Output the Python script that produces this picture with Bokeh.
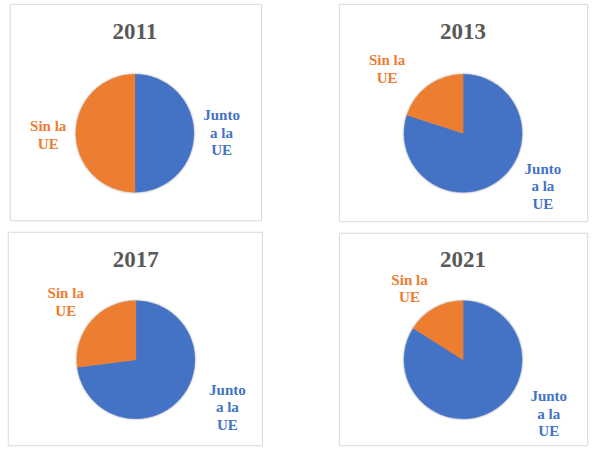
import math
from bokeh.plotting import figure
from bokeh.models import ColumnDataSource, Range1d
from bokeh.core.properties import value
from bokeh.embed import file_html
from bokeh.resources import INLINE

# ---- data ----
years = ["2011", "2013", "2017", "2021"]
categories = ["Junto a la UE", "Sin la UE"]
junto = [50, 80, 73, 84]
sin_ue = [50, 20, 27, 16]
label_lines = [["Junto", "a la", "UE"], ["Sin la", "UE"]]

colors = ["#4472C4", "#ED7D31"]
W, H = 611.0, 468.0  # reference frame, mapped onto the figure
SERIF = value("Liberation Serif")

# ---- layout (panel geometry in reference frame coordinates) ----
panels = [
    dict(l=10, r=268, t=4, b=228, cx=138, cy=137.5, ty=32,
         lab=[(227, 119), (49, 130)]),
    dict(l=348, r=603, t=4, b=229, cx=475, cy=137.5, ty=32,
         lab=[(557, 174), (397, 62)]),
    dict(l=8, r=269, t=240, b=461, cx=139, cy=372, ty=268,
         lab=[(233, 403), (67, 303)]),
    dict(l=348, r=603, t=241, b=461, cx=475, cy=372, ty=268,
         lab=[(563, 410), (420, 289)]),
]

p = figure(width=595, height=452, output_backend="svg", toolbar_location=None,
           x_range=Range1d(0, W), y_range=Range1d(0, H), min_border=0)
p.axis.visible = False
p.grid.visible = False
p.outline_line_color = None
p.background_fill_color = "white"
p.border_fill_color = "white"

# panel borders
p.quad(left=[d["l"] for d in panels], right=[d["r"] for d in panels],
       top=[H - d["t"] for d in panels], bottom=[H - d["b"] for d in panels],
       fill_color=None, line_color="#D9D9D9", line_width=1)

# titles
p.text(x=[d["cx"] for d in panels], y=[H - d["ty"] for d in panels], text=years,
       text_font=SERIF, text_font_style="bold",
       text_font_size="23px", text_color="#595959",
       text_align="center", text_baseline="middle")

# soft shadow behind pies
for rad, a in [(61, 0.05), (60, 0.08)]:
    p.circle(x=[d["cx"] for d in panels], y=[H - d["cy"] for d in panels],
             radius=rad, radius_units="screen", fill_color="#000000",
             fill_alpha=a, line_color=None)

# wedges
wx, wy, ws, we, wc = [], [], [], [], []
for i, d in enumerate(panels):
    vals = [junto[i], sin_ue[i]]
    tot = float(sum(vals))
    cum = 0.0
    for k, v in enumerate(vals):
        start = math.pi / 2 - 2 * math.pi * cum / tot
        cum += v
        end = math.pi / 2 - 2 * math.pi * cum / tot
        wx.append(d["cx"]); wy.append(H - d["cy"])
        ws.append(start); we.append(end); wc.append(colors[k])
src = ColumnDataSource(dict(x=wx, y=wy, s=ws, e=we, c=wc))
p.wedge(x="x", y="y", radius=59, radius_units="screen", start_angle="s",
        end_angle="e", direction="clock", fill_color="c", line_color="c",
        line_width=0.5, source=src)

# category labels
tx, ty, tt, tc, to = [], [], [], [], []
for d in panels:
    for k, (lx, ly) in enumerate(d["lab"]):
        for j, line in enumerate(label_lines[k]):
            tx.append(lx); ty.append(H - ly); tt.append(line)
            tc.append(colors[k]); to.append(j * 17.5)
lsrc = ColumnDataSource(dict(x=tx, y=ty, t=tt, c=tc, o=to))
p.text(x="x", y="y", text="t", y_offset="o", text_color="c", source=lsrc,
       text_font=SERIF, text_font_style="bold",
       text_font_size="15px", text_align="center", text_baseline="middle")

open("out.html", "w").write(file_html(p, INLINE))
